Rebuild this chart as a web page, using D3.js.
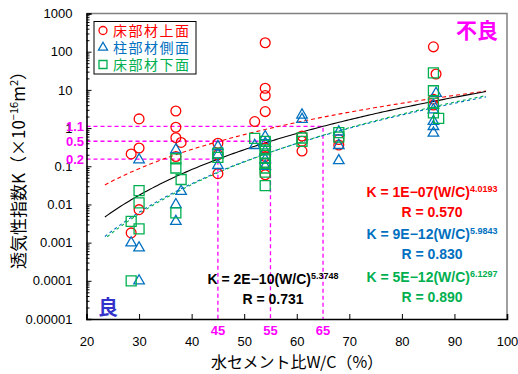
<!DOCTYPE html>
<html>
<head>
<meta charset="utf-8">
<script src="https://cdn.jsdelivr.net/npm/d3@7"></script>
<style>
  body { margin: 0; background: #fff; }
  svg { display: block; }
</style>
</head>
<body>
<svg id="chart" width="518" height="374"></svg>
<script>
// ---- data: [W/C (%), K (×10^-16 m^2)] ----
const floorTop = [
  [28.5, 0.21], [28.5, 0.0018], [30, 1.74], [30, 0.30], [30, 0.0073],
  [37, 2.8], [37, 1.05], [37, 0.56], [38, 0.42], [37, 0.18],
  [45, 0.40], [45, 0.20], [45, 0.064],
  [52, 1.48], [54, 171], [54, 11], [54, 7.1], [54, 2.7], [54, 0.30], [54, 0.18], [54, 0.12], [54, 0.06],
  [61, 0.62], [61, 0.45], [61, 0.25],
  [68, 0.50], [68, 0.36],
  [86, 134], [86.5, 26], [86, 5.7], [86, 4.0]
];
const columnSide = [
  [28.5, 0.00099], [30, 0.148], [30, 0.00073], [30, 0.0001],
  [37, 0.27], [38, 0.022], [37, 0.0099], [37, 0.0036],
  [45, 0.33], [45, 0.20], [45, 0.105],
  [52, 0.35], [54, 0.60], [54, 0.40], [54, 0.25], [54, 0.15], [54, 0.10],
  [61, 2.2], [61, 1.7],
  [68, 0.79], [68, 0.35], [68, 0.14],
  [86.5, 8.1], [86, 4.0], [86, 3.0], [86, 1.5], [86, 1.1], [86, 0.74]
];
const floorBottom = [
  [28.5, 0.0036], [28.5, 0.0001], [30, 0.023], [30, 0.011], [30, 0.0023],
  [37, 0.157], [37, 0.09], [38, 0.045], [37, 0.006],
  [45, 0.22], [45, 0.17],
  [52, 0.54], [54, 0.45], [54, 0.35], [54, 0.27], [54, 0.21], [54, 0.16], [54, 0.12], [54, 0.09], [54, 0.07], [54, 0.031],
  [61, 0.55], [61, 0.45],
  [68, 0.76], [68, 0.58],
  [86, 28], [86, 9.5], [86, 4.5], [86, 2.5], [87, 1.8]
];

const seriesNames = ["床部材上面", "柱部材側面", "床部材下面"];
const seriesColors = ["#ff0000", "#0070c0", "#00b050"];

// power-law fits K = a (W/C)^b : top, column, bottom, all
const fitCoefText = ["1E−07", "9E−12", "5E−12", "2E−10"];
const fitCoef = [1e-7, 9e-12, 5e-12, 2e-10];
const fitExp = [4.0193, 5.9843, 6.1297, 5.3748];
const fitR = [0.570, 0.830, 0.890, 0.731];
const fitRange = [23.5, 96];

// guide W/C values read against the overall fit
const guideWC = [45, 55, 65];

const xTicks = [20, 30, 40, 50, 60, 70, 80, 90, 100];
const yTicks = [1e-5, 1e-4, 1e-3, 1e-2, 1e-1, 1, 10, 100, 1000];
const yTickLabels = ["0.00001", "0.0001", "0.001", "0.01", "0.1", "1", "10", "100", "1000"];

// ---- layout ----
const svg = d3.select("#chart");
const M = { left: 86.5, right: 507, top: 13.5, bottom: 319 };
const x = d3.scaleLinear().domain([20, 100]).range([M.left, M.right]);
const y = d3.scaleLog().domain([1e-5, 1000]).range([M.bottom, M.top]);
const latin = "'Liberation Sans', Arial, Helvetica, sans-serif";
const cjk = "'Noto Sans CJK JP', 'Noto Sans', sans-serif";
const magenta = "#ff00ff";

// plot frame (top / right)
svg.append("path")
  .attr("d", `M${M.left},${M.top}H${M.right}V${M.bottom}`)
  .attr("fill", "none").attr("stroke", "#808080").attr("stroke-width", 1.5);

// guide lines
const kAll = w => fitCoef[3] * Math.pow(w, fitExp[3]);
const guides = svg.append("g");
guideWC.forEach(w => {
  const k = kAll(w);
  guides.append("path")
    .attr("d", `M${x(20)},${y(k)}H${x(w)}V${M.bottom}`)
    .attr("fill", "none").attr("stroke", magenta).attr("stroke-width", 1.3)
    .attr("stroke-dasharray", "4,3");
});

// fitted curves
const fitStyles = [
  { color: seriesColors[0], dash: "4,3", offset: 0 },
  { color: seriesColors[1], dash: "3,3", offset: 0 },
  { color: seriesColors[2], dash: "3,3", offset: 3 },
  { color: "#000000", dash: null, offset: 0 }
];
const fitLine = d3.line().x(d => x(d[0])).y(d => y(d[1]));
fitCoef.forEach((a, i) => {
  const pts = d3.range(fitRange[0], fitRange[1] + 0.001, 0.5).map(w => [w, a * Math.pow(w, fitExp[i])]);
  const p = svg.append("path").datum(pts)
    .attr("d", fitLine).attr("fill", "none")
    .attr("stroke", fitStyles[i].color).attr("stroke-width", 1.1);
  if (fitStyles[i].dash) p.attr("stroke-dasharray", fitStyles[i].dash).attr("stroke-dashoffset", fitStyles[i].offset);
});

// markers
const triangle = d3.symbol().type(d3.symbolTriangle).size(48);
const square = d3.symbol().type(d3.symbolSquare).size(100);
const pts = svg.append("g").attr("fill", "none").attr("stroke-width", 1.3);
pts.selectAll("circle.top").data(floorTop).join("circle")
  .attr("cx", d => x(d[0])).attr("cy", d => y(d[1])).attr("r", 4.9)
  .attr("stroke", seriesColors[0]);
pts.selectAll("path.col").data(columnSide).join("path")
  .attr("d", triangle).attr("transform", d => `translate(${x(d[0])},${y(d[1])})`)
  .attr("stroke", seriesColors[1]);
pts.selectAll("path.bot").data(floorBottom).join("path")
  .attr("class", "bot")
  .attr("d", square).attr("transform", d => `translate(${x(d[0])},${y(d[1])})`)
  .attr("stroke", seriesColors[2]);

// axes
const yAxis = d3.axisLeft(y).tickValues(yTicks).tickSize(-5).tickPadding(14)
  .tickFormat((d, i) => yTickLabels[i]);
const minors = [];
for (let e = -5; e < 3; e++) for (let m = 2; m <= 9; m++) minors.push(m * Math.pow(10, e));
const yMinor = d3.axisLeft(y).tickValues(minors).tickSize(-3).tickFormat("");
const gy = svg.append("g").attr("transform", `translate(${M.left},0)`).call(yAxis);
svg.append("g").attr("transform", `translate(${M.left},0)`).call(yMinor)
  .call(g => g.select(".domain").remove());
gy.selectAll("text").attr("font-family", latin).attr("font-size", 13).attr("fill", "#000");

const xAxis = d3.axisBottom(x).tickValues(xTicks).tickSize(-5).tickPadding(18).tickFormat(d3.format("d"));
const gx = svg.append("g").attr("transform", `translate(0,${M.bottom})`).call(xAxis);
gx.selectAll("text").attr("font-family", latin).attr("font-size", 13).attr("fill", "#000");

[gy, gx].forEach(g => {
  g.select(".domain").attr("stroke", "#000").attr("stroke-width", 1.6);
  g.selectAll(".tick line").attr("stroke", "#000");
});

// guide labels
guideWC.forEach(w => {
  const k = kAll(w);
  svg.append("text").attr("x", 84).attr("y", y(k) + 4.5)
    .attr("text-anchor", "end").attr("font-family", latin).attr("font-size", 13)
    .attr("font-weight", "bold").attr("fill", magenta).text(k.toFixed(1));
  svg.append("text").attr("x", x(w)).attr("y", M.bottom + 15.5)
    .attr("text-anchor", "middle").attr("font-family", latin).attr("font-size", 13)
    .attr("font-weight", "bold").attr("fill", magenta).text(w);
});

// axis titles
const yt = svg.append("text")
  .attr("transform", `translate(25,166) rotate(-90)`)
  .attr("text-anchor", "middle").attr("font-family", cjk).attr("font-size", 17).attr("fill", "#000");
yt.append("tspan").text("透気性指数K（×10");
yt.append("tspan").attr("dy", -7).attr("font-size", 11).text("−16");
yt.append("tspan").attr("dy", 7).text("m");
yt.append("tspan").attr("dy", -7).attr("font-size", 11).text("2");
yt.append("tspan").attr("dy", 7).text("）");

svg.append("text").attr("x", 297).attr("y", 368)
  .attr("text-anchor", "middle").attr("font-family", cjk).attr("font-size", 16)
  .attr("fill", "#000").text("水セメント比W/C（%）");

// corner notes
svg.append("text").attr("x", 456).attr("y", 38)
  .attr("font-family", cjk).attr("font-size", 21).attr("font-weight", "bold")
  .attr("fill", magenta).text("不良");
svg.append("text").attr("x", 98).attr("y", 315)
  .attr("font-family", cjk).attr("font-size", 20).attr("font-weight", "bold")
  .attr("fill", "#3333cc").text("良");

// legend
const lg = svg.append("g");
lg.append("rect").attr("x", 94).attr("y", 21.5).attr("width", 102).attr("height", 52.5)
  .attr("fill", "#fff").attr("stroke", "#000").attr("stroke-width", 1);
const rowY = [30.5, 47.5, 64.5];
lg.append("circle").attr("cx", 103).attr("cy", rowY[0]).attr("r", 4)
  .attr("fill", "none").attr("stroke", seriesColors[0]).attr("stroke-width", 1.3);
lg.append("path").attr("d", d3.symbol().type(d3.symbolTriangle).size(36))
  .attr("transform", `translate(103,${rowY[1]})`)
  .attr("fill", "none").attr("stroke", seriesColors[1]).attr("stroke-width", 1.3);
lg.append("path").attr("d", d3.symbol().type(d3.symbolSquare).size(64))
  .attr("transform", `translate(103,${rowY[2]})`)
  .attr("fill", "none").attr("stroke", seriesColors[2]).attr("stroke-width", 1.3);
seriesNames.forEach((n, i) => {
  lg.append("text").attr("x", 113).attr("y", rowY[i] + 5)
    .attr("font-family", cjk).attr("font-size", 14).attr("letter-spacing", 1.5)
    .attr("fill", seriesColors[i]).text(n);
});

// fit equations
const eqPos = [[432, 197], [432, 239], [432, 281.5], [273, 284]];
const eqColor = [seriesColors[0], seriesColors[1], seriesColors[2], "#000"];
fitCoef.forEach((a, i) => {
  const t = svg.append("text").attr("x", eqPos[i][0]).attr("y", eqPos[i][1])
    .attr("text-anchor", "middle").attr("font-family", latin).attr("font-size", 14)
    .attr("font-weight", "bold").attr("fill", eqColor[i]);
  t.append("tspan").text(`K = ${fitCoefText[i]}(W/C)`);
  t.append("tspan").attr("dy", -5).attr("font-size", 9).text(fitExp[i].toFixed(4));
  svg.append("text").attr("x", eqPos[i][0]).attr("y", eqPos[i][1] + 20)
    .attr("text-anchor", "middle").attr("font-family", latin).attr("font-size", 14)
    .attr("font-weight", "bold").attr("fill", eqColor[i]).text(`R = ${fitR[i].toFixed(3)}`);
});
</script>
</body>
</html>
